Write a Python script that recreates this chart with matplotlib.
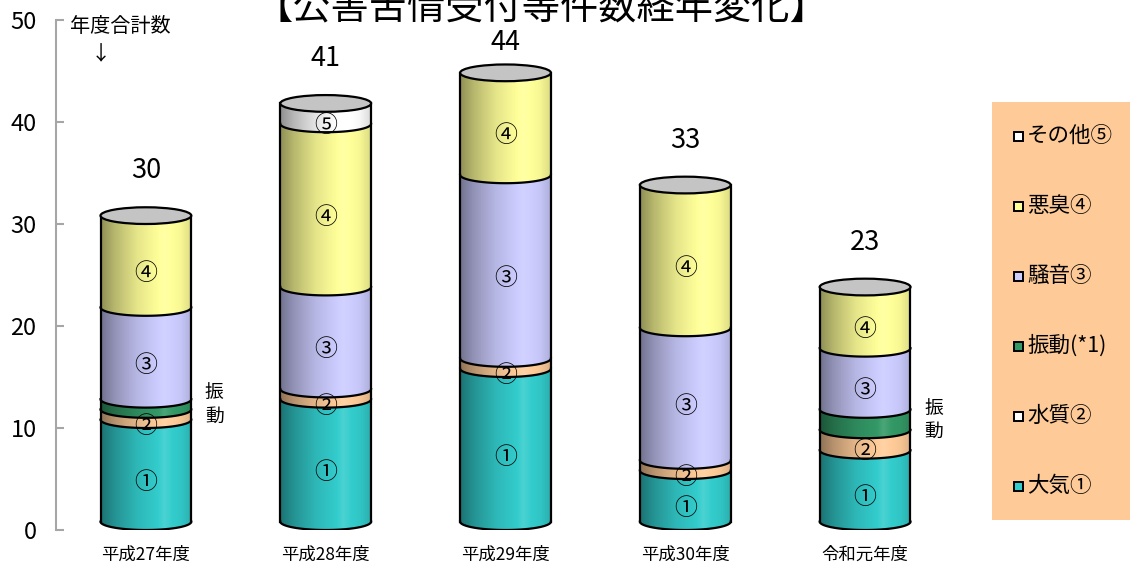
import numpy as np
import matplotlib
matplotlib.use('Agg')
import matplotlib.pyplot as plt
from matplotlib.patches import Ellipse, Polygon, Rectangle
from matplotlib.colors import to_rgb

plt.rcParams['font.family'] = ['Noto Sans CJK JP', 'DejaVu Sans']

# 年度
nendo = ['平成27年度', '平成28年度', '平成29年度', '平成30年度', '令和元年度']

# 種類別件数 (下から積み上げ)
taiki = [10, 12, 15, 5, 7]       # 大気①
suishitsu = [1, 1, 1, 1, 2]      # 水質②
shindou = [1, 0, 0, 0, 2]        # 振動
souon = [9, 10, 18, 13, 6]       # 騒音③
akushuu = [9, 16, 10, 14, 6]     # 悪臭④
sonota = [0, 2, 0, 0, 0]         # その他⑤

marca = ['①', '②', '', '③', '④', '⑤']
colores = ['#33CCCC', '#FFCC99', '#339966', '#CCCCFF', '#FFFF99', '#FFFFFF']

# leyenda (de arriba a abajo)
leyenda = ['その他⑤', '悪臭④', '騒音③', '振動(*1)', '水質②', '大気①']
color_ley = ['#FFFFFF', '#FFFF99', '#CCCCFF', '#339966', '#FFFFFF', '#33CCCC']


def degradado(color, n=120):
    # sombreado del cilindro: oscuro a la izquierda, brillo a ~2/3
    t = np.linspace(0, 1, n)
    f = np.interp(t, [0, 0.15, 0.4, 0.7, 0.88, 1], [0.56, 0.72, 0.9, 1.03, 0.97, 0.86])
    c = np.array(to_rgb(color))
    rgb = c[None, :] * f[:, None]
    mas = np.clip(f - 1, 0, None)[:, None]
    rgb = np.where(f[:, None] > 1, c + (1 - c) * mas * 4, rgb)
    return np.clip(rgb, 0, 1)[None, :, :]


fig = plt.figure(figsize=(11.3, 5.63), dpi=100)
ax = fig.add_axes([56 / 1130, 33 / 563, 899 / 1130, 510 / 563])

x = np.arange(len(nendo))
ancho = 0.505
h = 0.82   # semieje vertical de las elipses

series = [taiki, suishitsu, shindou, souon, akushuu, sonota]
base = np.zeros(len(nendo))
z = 2
th = np.linspace(np.pi, 2 * np.pi, 80)
for vals, col, mk in zip(series, colores, marca):
    vals = np.array(vals, dtype=float)
    barras = ax.bar(x, vals, ancho, bottom=base + h, color=col, linewidth=0, zorder=z)
    for i, r in enumerate(barras):
        if vals[i] == 0:
            r.set_visible(False)
            continue
        x0 = r.get_x()
        w = r.get_width()
        y0 = r.get_y()
        y1 = y0 + r.get_height()
        xc = x0 + w / 2
        arco = np.column_stack([xc + w / 2 * np.cos(th), y0 + h * np.sin(th)])
        pts = np.vstack([[x0, y1], arco, [x0 + w, y1]])
        forma = Polygon(pts, closed=True, transform=ax.transData)
        im = ax.imshow(degradado(col), extent=[x0, x0 + w, y0 - h, y1],
                       aspect='auto', interpolation='bilinear', zorder=z + 0.1)
        im.set_clip_path(forma)
        ax.plot(arco[:, 0], arco[:, 1], color='black', lw=1.6, zorder=z + 0.2)
        if mk:
            ax.text(xc, base[i] + vals[i] / 2 - 0.35, mk, ha='center', va='center',
                    fontsize=16.5, zorder=50)
        else:
            # texto lateral para 振動
            ax.text(xc + 0.38, base[i] + vals[i] / 2 + 0.8, '振\n動', ha='center',
                    va='center', fontsize=13.5, linespacing=1.15, zorder=50)
    base += vals
    z += 1

# lados y tapa de cada cilindro
for i in range(len(nendo)):
    x0 = x[i] - ancho / 2
    x1 = x[i] + ancho / 2
    ax.plot([x0, x0], [h, base[i] + h], color='black', lw=1.6, zorder=30)
    ax.plot([x1, x1], [h, base[i] + h], color='black', lw=1.6, zorder=30)
    ax.add_patch(Ellipse((x[i], base[i] + h), ancho, 2 * h, facecolor='#C4C4C4',
                         edgecolor='black', lw=1.6, zorder=31))
    ax.text(x[i], min(base[i] + 5.2, 47.8), str(int(base[i])), ha='center', va='center',
            fontsize=19.5, zorder=50)

ax.set_xlim(-0.5, 4.5)
ax.set_ylim(0, 50)
ax.set_yticks([0, 10, 20, 30, 40, 50])
ax.set_xticks(x, nendo)
for s in ['top', 'right', 'bottom']:
    ax.spines[s].set_visible(False)
ax.spines['left'].set_color('#A6A6A6')
ax.spines['left'].set_linewidth(1.5)
ax.tick_params(axis='y', direction='in', length=6, width=1.5, color='#A6A6A6',
               pad=14, labelsize=17)
ax.tick_params(axis='x', length=0, pad=11, labelsize=12.5)

# titulo y notas
fig.text(541 / 1130, 1 - 19 / 563, '【公害苦情受付等件数経年変化】', ha='center',
         va='baseline', fontsize=27.5)
fig.text(70 / 1130, 1 - 27 / 563, '年度合計数', ha='left', va='center', fontsize=14.5)
fig.text(101 / 1130, 1 - 55 / 563, '↓', ha='center', va='center', fontsize=14.5)

# leyenda manual
fig.add_artist(Rectangle((992 / 1130, 1 - 520 / 563), 138 / 1130, 418 / 563,
                         transform=fig.transFigure, facecolor='#FDCA98',
                         edgecolor='none', zorder=0))
for k, (nom, c) in enumerate(zip(leyenda, color_ley)):
    yc = 136 + 70 * k
    fig.add_artist(Rectangle((1014 / 1130, 1 - (yc + 4.5) / 563), 9 / 1130, 9 / 563,
                             transform=fig.transFigure, facecolor=c,
                             edgecolor='black', lw=1.4, zorder=2))
    fig.text(1027 / 1130, 1 - yc / 563, nom, ha='left', va='center', fontsize=15.5)

plt.savefig('out.png')
